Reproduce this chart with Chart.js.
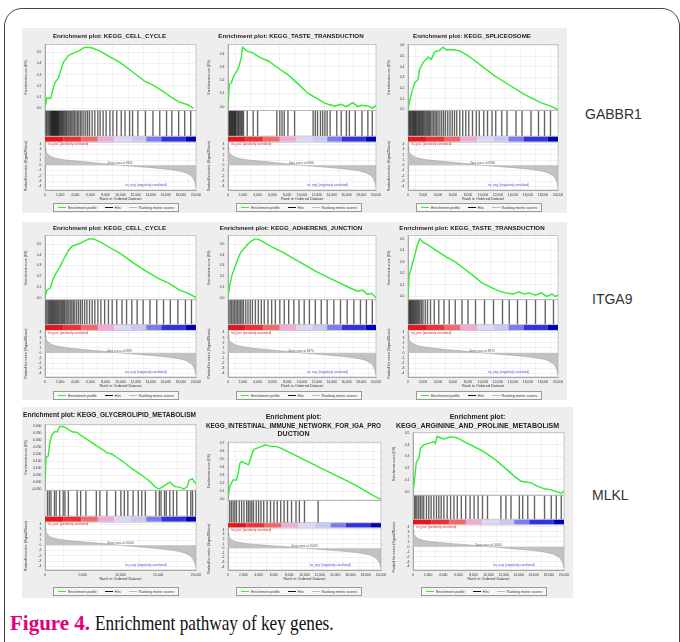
<!DOCTYPE html>
<html>
<head>
<meta charset="utf-8">
<script src="https://cdn.jsdelivr.net/npm/chart.js@4.4.0/dist/chart.umd.min.js"></script>
<style>
body { margin: 0; width: 680px; height: 642px; overflow: hidden; position: relative; background: #fff; font-family: Arial, "Liberation Sans", sans-serif; }
#frame { position: absolute; left: 4px; top: 8px; width: 674px; height: 700px; border: 1px solid #444; border-radius: 18px; }
.row { position: absolute; background: #eeeeee; }
.panel { position: absolute; }
.panel canvas { position: absolute; left: 0; top: 0; }
.legend { position: absolute; width: 124px; height: 7px; border: 1px solid #999; background: #f7f7f7; font-size: 3.6px; color: #333;
  display: flex; align-items: center; justify-content: space-around; }
.legend i { display: inline-block; width: 8px; margin-right: 2px; vertical-align: middle; }
.gene { position: absolute; font-size: 14px; color: #333; }
#caption { position: absolute; left: 10px; top: 611px; font-family: "Liberation Serif", "Times New Roman", serif; font-size: 21px; color: #111; white-space: nowrap; }
#caption b { color: #e2007a; }
#caption span { display: inline-block; transform: scaleX(0.82); transform-origin: left center; }
</style>
</head>
<body>
<div id="frame"></div>
<div class="row" style="left:22px; top:28px; width:545px; height:185px;"></div>
<div class="row" style="left:22px; top:222px; width:545px; height:178px;"></div>
<div class="row" style="left:22px; top:407px; width:551px; height:191px;"></div>
<div class="gene" style="left:585px; top:106px;">GABBR1</div>
<div class="gene" style="left:592px; top:291px;">ITGA9</div>
<div class="gene" style="left:592px; top:487px;">MLKL</div>
<div id="caption"><b>Figure 4.</b> <span>Enrichment pathway of key genes.</span></div>
<div id="panels"></div>

<script>
// TICK LABELS
const rankTicks = [0, 2000, 4000, 6000, 8000, 10000, 12000, 14000, 16000, 18000, 20000];
const rankTicksWide = [0, 5000, 10000, 15000, 20000];
const metricTicks = [4, 3, 2, 1, 0, -1, -2, -3, -4];
const esTicks4 = [0, 0.1, 0.2, 0.3, 0.4];
const esTicks5 = [0, 0.1, 0.2, 0.3, 0.4, 0.5];
const esTicks6 = [0, 0.1, 0.2, 0.3, 0.4, 0.5, 0.6];
const esTicks7 = [0, 0.1, 0.2, 0.3, 0.4, 0.5, 0.6, 0.7];
const esTicksGlycerolipid = [-0.05, 0, 0.05, 0.1, 0.15, 0.2, 0.25, 0.3, 0.35, 0.4];

// ENRICHMENT SCORE CURVES  [rank, ES]
const esCellCycleGabbr1 = [[0,0],[220,0.09],[750,0.09],[970,0.15],[1320,0.23],[1770,0.27],[2430,0.41],[3090,0.47],[3310,0.48],[4420,0.51],[5300,0.545],[6180,0.54],[7280,0.51],[8600,0.46],[9930,0.41],[11700,0.32],[13250,0.24],[14500,0.2],[15670,0.15],[16700,0.1],[17660,0.06],[18980,0.03],[19650,0]];
const esTasteGabbr1 = [[0,0],[180,0.167],[450,0.18],[760,0.23],[1210,0.27],[1430,0.295],[1790,0.37],[1970,0.45],[2550,0.42],[3220,0.41],[4340,0.37],[5460,0.345],[6800,0.29],[8140,0.24],[9490,0.17],[10830,0.1],[11950,0.064],[13060,0.026],[13510,0.018],[14410,0.005],[15300,0.018],[15970,0],[16870,0.03],[17540,0],[17990,0.01],[18880,0.005],[19550,-0.013],[20000,0.01]];
const esSpliceosomeGabbr1 = [[0,0],[220,0.08],[530,0.17],[890,0.25],[1330,0.28],[1560,0.38],[2000,0.44],[2670,0.49],[3110,0.47],[3560,0.54],[4220,0.555],[4670,0.585],[5110,0.56],[6000,0.56],[6890,0.55],[8000,0.505],[9780,0.41],[11560,0.315],[13330,0.237],[15560,0.14],[17780,0.063],[19110,0.03],[20000,0]];
const esCellCycleItga9 = [[0,0],[250,0.07],[700,0.09],[1000,0.16],[1400,0.22],[1900,0.28],[2500,0.36],[3100,0.44],[3600,0.48],[4400,0.5],[5300,0.53],[5900,0.55],[6500,0.545],[7300,0.52],[8500,0.47],[10000,0.41],[11800,0.32],[13300,0.25],[15000,0.18],[16500,0.13],[17800,0.07],[19000,0.04],[20000,0]];
const esAdherensItga9 = [[0,0],[200,0.1],[500,0.2],[900,0.28],[1300,0.35],[1700,0.42],[2200,0.46],[2700,0.5],[3200,0.53],[3700,0.55],[4200,0.54],[5000,0.51],[6000,0.47],[7500,0.42],[9000,0.36],[10500,0.3],[12000,0.24],[13500,0.19],[15000,0.14],[16500,0.09],[17500,0.06],[18200,0.07],[18800,0.03],[19400,0.04],[20000,0]];
const esTasteItga9 = [[0,0],[150,0.18],[400,0.24],[700,0.31],[1000,0.38],[1300,0.46],[1600,0.5],[2000,0.47],[2600,0.45],[3300,0.42],[4200,0.38],[5200,0.34],[6300,0.3],[7500,0.24],[8700,0.18],[9800,0.12],[11000,0.08],[12000,0.05],[13000,0.03],[14000,0.02],[14800,0.04],[15500,0.02],[16200,0.03],[17000,0.01],[17800,0.03],[18500,0],[19200,0.02],[19600,0],[20000,0.01]];
const esGlycerolipidMlkl = [[0,0],[140,0.173],[420,0.185],[650,0.284],[880,0.333],[1250,0.358],[1620,0.358],[1940,0.395],[2410,0.395],[2870,0.383],[3560,0.358],[4260,0.353],[4720,0.333],[5420,0.309],[6110,0.284],[6800,0.259],[7500,0.235],[8190,0.21],[8890,0.198],[9580,0.173],[10280,0.148],[11430,0.099],[12820,0.049],[13750,0.012],[14680,-0.037],[15140,-0.049],[15830,-0.025],[16530,0],[17220,-0.032],[17920,-0.037],[18380,-0.049],[18840,-0.032],[19070,0.012],[19540,0.025],[19770,0],[20000,-0.007]];
const esIntestinalMlkl = [[0,0],[220,0.158],[440,0.2],[670,0.242],[1110,0.242],[1330,0.325],[1560,0.45],[1780,0.47],[2220,0.45],[2670,0.43],[2890,0.49],[3330,0.617],[3780,0.637],[4440,0.658],[4890,0.68],[5560,0.658],[6220,0.658],[6890,0.637],[8220,0.575],[10000,0.492],[12220,0.387],[14440,0.283],[16670,0.179],[18890,0.054],[20000,0]];
const esArginineMlkl = [[0,0],[180,0.088],[440,0.25],[760,0.28],[980,0.368],[1420,0.397],[2090,0.41],[2760,0.426],[2980,0.41],[3200,0.47],[3640,0.456],[4090,0.447],[4760,0.462],[5200,0.465],[5870,0.456],[6760,0.426],[8090,0.382],[9420,0.338],[10760,0.279],[12090,0.206],[13420,0.132],[14310,0.088],[15640,0.074],[16530,0.044],[17420,0.024],[18310,0.015],[18980,0],[19640,-0.015],[20000,0.006]];

// HITS (rank of each gene set member)
const hitsCellCycleGabbr1 = [80,220,380,520,640,760,850,930,1010,1100,1180,1260,1330,1420,1500,1590,1680,1760,1850,1960,2080,2200,2330,2450,2600,2750,2880,3050,3200,3380,3550,3720,3900,4100,4300,4480,4700,4900,5150,5400,5650,5900,6250,6600,7000,7300,7700,8100,8600,9000,9500,10100,10600,11200,11600,12300,13300,14300,15200,16100,16800,17700,18500,19300];
const hitsTasteGabbr1 = [100,200,300,400,500,600,700,800,900,1000,1100,1250,1400,1500,1650,1800,1950,2100,2600,3400,4000,6600,7000,7300,7600,8100,9000,11500,11800,12100,12500,12800,13100,13400,13800,14700,15300,16000,16400,17200,18100,18900,19500];
const hitsSpliceosomeGabbr1 = [60,180,300,420,530,640,760,860,980,1090,1200,1330,1450,1560,1700,1830,1960,2100,2250,2400,2550,2700,2850,3000,3200,3400,3600,3800,4000,4250,4500,4750,5000,5300,5600,5900,6200,6500,6900,7300,7700,8100,8600,9100,9500,10100,10600,11200,11700,12500,13200,14400,15200,16400,17400,18200,19000];
const hitsCellCycleItga9 = [90,250,420,560,700,830,950,1080,1200,1320,1450,1580,1720,1850,2000,2150,2300,2450,2600,2780,2950,3150,3350,3550,3750,3950,4200,4450,4700,4950,5250,5550,5900,6250,6600,7000,7400,7900,8400,8900,9500,10200,10800,11500,12200,13000,13900,14800,15700,16600,17600,18600,19400];
const hitsAdherensItga9 = [100,300,500,700,900,1100,1300,1500,1700,1900,2100,2400,2700,3000,3300,3700,4100,4500,4900,5400,5900,6400,7000,7600,8200,8900,9600,10300,11000,11800,12600,13400,14300,15200,16100,17000,17900,18700,19500];
const hitsTasteItga9 = [80,200,320,440,560,680,800,920,1050,1180,1320,1460,1600,1800,2000,2300,2600,3000,3500,4100,4800,5500,6300,7200,8000,9000,10200,11400,12600,13500,14600,15800,17000,18300,19400];
const hitsGlycerolipidMlkl = [320,560,790,1250,1480,1940,2410,2640,3100,4260,4720,5420,6800,7270,8190,9350,10050,10510,10970,11670,12360,12820,13290,14680,15140,15370,15830,16060,16530,16990,17450,18840,19310,19540,19950];
const hitsIntestinalMlkl = [220,440,670,890,1110,1470,1780,2090,2440,2670,2890,3110,3330,3690,4000,4310,4670,5110,5560,6000,6440,6890,7330,7780,8310,8890,9330,10000,11780];
const hitsArginineMlkl = [180,360,530,760,980,1200,1420,1780,2090,2400,2760,3110,3420,3730,4090,4530,4980,5420,5870,6400,6980,7560,8090,8620,9200,9870,11640,12310,12980,14090,14530,15200,16090,17420,18310,18980,19640];

// RANKED LIST METRIC  [rank, signal2noise]
const metricGabbr1 = [[0,3.4],[100,2.8],[250,2.3],[500,1.9],[900,1.6],[1500,1.3],[2500,1.05],[3500,0.9],[5000,0.7],[6500,0.5],[8000,0.3],[9000,0.15],[9930,0],[11000,-0.12],[12500,-0.3],[14000,-0.45],[15500,-0.65],[16800,-0.85],[17800,-1.1],[18600,-1.4],[19200,-1.8],[19600,-2.4],[19850,-3.2],[20000,-4.2]];
const metricItga9 = [[0,3.6],[100,2.9],[250,2.4],[500,2],[900,1.65],[1500,1.35],[2500,1.1],[3500,0.9],[5000,0.7],[6500,0.5],[8000,0.3],[9000,0.15],[9870,0],[11000,-0.12],[12500,-0.3],[14000,-0.48],[15500,-0.68],[16800,-0.9],[17800,-1.15],[18600,-1.45],[19200,-1.9],[19600,-2.5],[19850,-3.3],[20000,-4.3]];
const metricMlkl = [[0,3.3],[100,2.7],[250,2.2],[500,1.8],[900,1.5],[1500,1.25],[2500,1],[3500,0.85],[5000,0.65],[6500,0.47],[8000,0.3],[9000,0.17],[10010,0],[11000,-0.12],[12500,-0.32],[14000,-0.5],[15500,-0.7],[16800,-0.92],[17800,-1.2],[18600,-1.5],[19200,-1.95],[19600,-2.6],[19850,-3.4],[20000,-4.3]];

// COLOUR BAR SEGMENTS  [from fraction, to fraction, colour]
const colorBarStops = [[0,0.12,'#e4161c'],[0.12,0.24,'#ea3338'],[0.24,0.35,'#f0686c'],[0.35,0.46,'#f2a9d6'],[0.46,0.57,'#dcd7f4'],[0.57,0.67,'#c9c8f4'],[0.67,0.77,'#7d7cee'],[0.77,0.93,'#3333dd'],[0.93,1,'#0000b8']];

// PANELS
const panels = [
  { left: 22, top: 28, w: 183, h: 174, legTop: 175, title: 'Enrichment plot: KEGG_CELL_CYCLE', tSize: 6.2, tPad: [5, 4], es: esCellCycleGabbr1, esMin: -0.02, esMax: 0.57, esTicks: esTicks5, dec: 1, hits: hitsCellCycleGabbr1, metric: metricGabbr1, zero: 9930, xTicks: rankTicks },
  { left: 205, top: 28, w: 180, h: 174, legTop: 175, title: 'Enrichment plot: KEGG_TASTE_TRANSDUCTION', tSize: 6.2, tPad: [5, 4], es: esTasteGabbr1, esMin: -0.03, esMax: 0.47, esTicks: esTicks4, dec: 1, hits: hitsTasteGabbr1, metric: metricGabbr1, zero: 9930, xTicks: rankTicks },
  { left: 385, top: 28, w: 182, h: 174, legTop: 175, title: 'Enrichment plot: KEGG_SPLICEOSOME', tSize: 6.2, tPad: [5, 4], es: esSpliceosomeGabbr1, esMin: -0.01, esMax: 0.61, esTicks: esTicks6, dec: 1, hits: hitsSpliceosomeGabbr1, metric: metricGabbr1, zero: 9930, xTicks: rankTicks },
  { left: 22, top: 222, w: 183, h: 167, legTop: 169, title: 'Enrichment plot: KEGG_CELL_CYCLE', tSize: 6.2, tPad: [3, 3], es: esCellCycleItga9, esMin: -0.02, esMax: 0.58, esTicks: esTicks5, dec: 1, hits: hitsCellCycleItga9, metric: metricItga9, zero: 9870, xTicks: rankTicks },
  { left: 205, top: 222, w: 180, h: 167, legTop: 169, title: 'Enrichment plot: KEGG_ADHERENS_JUNCTION', tSize: 6.2, tPad: [3, 3], es: esAdherensItga9, esMin: -0.02, esMax: 0.58, esTicks: esTicks5, dec: 1, hits: hitsAdherensItga9, metric: metricItga9, zero: 9870, xTicks: rankTicks },
  { left: 385, top: 222, w: 182, h: 167, legTop: 169, title: 'Enrichment plot: KEGG_TASTE_TRANSDUCTION', tSize: 6.2, tPad: [3, 3], es: esTasteItga9, esMin: -0.03, esMax: 0.53, esTicks: esTicks5, dec: 1, hits: hitsTasteItga9, metric: metricItga9, zero: 9870, xTicks: rankTicks },
  { left: 22, top: 407, w: 183, h: 175, legTop: 180, title: 'Enrichment plot: KEGG_GLYCEROLIPID_METABOLISM', tSize: 7, tPad: [4, 5], es: esGlycerolipidMlkl, esMin: -0.06, esMax: 0.41, esTicks: esTicksGlycerolipid, dec: 3, hits: hitsGlycerolipidMlkl, metric: metricMlkl, zero: 10010, xTicks: rankTicksWide },
  { left: 205, top: 407, w: 185, h: 175, legTop: 180, title: ['Enrichment plot:', 'KEGG_INTESTINAL_IMMUNE_NETWORK_FOR_IGA_PRO', 'DUCTION'], tSize: 7, tPad: [6, 4], es: esIntestinalMlkl, esMin: -0.01, esMax: 0.71, esTicks: esTicks7, dec: 1, hits: hitsIntestinalMlkl, metric: metricMlkl, zero: 10010, xTicks: rankTicks },
  { left: 390, top: 407, w: 183, h: 175, legTop: 180, title: ['Enrichment plot:', 'KEGG_ARGININE_AND_PROLINE_METABOLISM'], tSize: 7, tPad: [6, 3], es: esArginineMlkl, esMin: -0.03, esMax: 0.5, esTicks: esTicks5, dec: 1, hits: hitsArginineMlkl, metric: metricMlkl, zero: 10010, xTicks: rankTicks }
];

Chart.defaults.font.family = 'Arial, "Liberation Sans", sans-serif';
Chart.defaults.color = '#333';

// white plot background, colour bar, frames and small notes
var gseaDecor = {
  id: 'gseaDecor',
  beforeDraw: function (chart) {
    var a = chart.chartArea, ctx = chart.ctx;
    ctx.save();
    ctx.fillStyle = '#ffffff';
    ctx.fillRect(a.left, a.top, a.right - a.left, a.bottom - a.top);
    ctx.restore();
  },
  beforeDatasetsDraw: function (chart) {
    var a = chart.chartArea, ctx = chart.ctx;
    var yH = chart.scales.yHits, yC = chart.scales.yColor, x = chart.scales.x;
    ctx.save();
    ctx.fillStyle = '#ffffff';
    ctx.fillRect(a.left, yH.top, a.right - a.left, yH.bottom - yH.top);
    colorBarStops.forEach(function (s) {
      var x0 = x.getPixelForValue(s[0] * x.max);
      var x1 = x.getPixelForValue(s[1] * x.max);
      ctx.fillStyle = s[2];
      ctx.fillRect(x0, yC.top + 0.5, x1 - x0, yC.bottom - yC.top - 1);
    });
    ctx.restore();
  },
  afterDatasetsDraw: function (chart, args, opts) {
    var a = chart.chartArea, ctx = chart.ctx;
    var yE = chart.scales.yES, yH = chart.scales.yHits, yM = chart.scales.yMetric, x = chart.scales.x;
    ctx.save();
    ctx.strokeStyle = '#a8a8a8';
    ctx.lineWidth = 0.6;
    ctx.strokeRect(a.left, yE.top, a.right - a.left, yE.bottom - yE.top);
    ctx.strokeRect(a.left, yH.top, a.right - a.left, yH.bottom - yH.top);
    ctx.strokeRect(a.left, yM.top, a.right - a.left, yM.bottom - yM.top);
    ctx.font = '3px Arial';
    ctx.textBaseline = 'top';
    ctx.fillStyle = '#e8262b';
    ctx.fillText("'na_pos' (positively correlated)", a.left + 3, yM.top + 1);
    ctx.fillStyle = '#4a4ae8';
    ctx.fillText("'na_neg' (negatively correlated)", x.getPixelForValue(x.max * 0.53), yM.bottom - 6);
    ctx.fillStyle = '#555';
    ctx.textBaseline = 'bottom';
    ctx.textAlign = 'center';
    ctx.fillText('Zero cross at ' + opts.zero, x.getPixelForValue(opts.zero), yM.getPixelForValue(0) - 0.3);
    ctx.restore();
  }
};

function fixedTicks(list) {
  return function (scale) {
    scale.ticks = list.map(function (v) { return { value: v }; });
  };
}

function makePanel(p, i) {
  var holder = document.createElement('div');
  holder.className = 'panel';
  holder.style.left = p.left + 'px';
  holder.style.top = p.top + 'px';
  holder.style.width = p.w + 'px';
  holder.innerHTML = '<canvas id="gsea' + i + '" width="' + p.w + '" height="' + p.h + '"></canvas>' +
    '<div class="legend" style="left:31px; top:' + p.legTop + 'px;">' +
    '<span><i style="height:1.5px; background:#33ee33;"></i>Enrichment profile</span>' +
    '<span><i style="height:0.6px; background:#111;"></i>Hits</span>' +
    '<span><i style="height:0.6px; background:#bbb;"></i>Ranking metric scores</span></div>';
  document.getElementById('panels').appendChild(holder);

  var tickFont = { size: 3.4 };
  var axisTitleFont = { size: 3.4 };

  new Chart(document.getElementById('gsea' + i).getContext('2d'), {
    type: 'line',
    data: {
      datasets: [{
        label: 'Enrichment profile',
        data: p.es.map(function (d) { return { x: d[0], y: d[1] }; }),
        yAxisID: 'yES',
        borderColor: '#2fee2f',
        borderWidth: 1.4,
        pointRadius: 0,
        tension: 0
      }, {
        type: 'bar',
        label: 'Hits',
        data: p.hits.map(function (h) { return { x: h, y: 1 }; }),
        yAxisID: 'yHits',
        backgroundColor: 'rgba(0,0,0,0.62)',
        barThickness: 0.7
      }, {
        label: 'Ranking metric scores',
        data: p.metric.map(function (d) { return { x: d[0], y: d[1] }; }),
        yAxisID: 'yMetric',
        borderColor: '#9a9a9a',
        borderWidth: 0.5,
        backgroundColor: '#c2c2c2',
        fill: 'origin',
        pointRadius: 0,
        tension: 0
      }]
    },
    options: {
      responsive: false,
      animation: false,
      layout: { padding: { left: 1, right: 9, top: 0, bottom: 0 } },
      plugins: {
        legend: { display: false },
        tooltip: { enabled: false },
        title: {
          display: true,
          text: p.title,
          color: '#222',
          font: { size: p.tSize, weight: 'bold' },
          padding: { top: p.tPad[0], bottom: p.tPad[1] }
        },
        gseaDecor: { zero: p.zero }
      },
      // stacked y axes: listed bottom-up (metric at the bottom, ES on top)
      scales: {
        x: {
          type: 'linear',
          min: 0,
          max: 20000,
          offset: false,
          afterBuildTicks: fixedTicks(p.xTicks),
          afterFit: function (s) { s.height = 12; },
          ticks: { font: tickFont, maxRotation: 0, autoSkip: false, padding: 1,
            callback: function (v) { return v.toLocaleString('en-US'); } },
          grid: { color: '#e4e4e4', lineWidth: 0.5, tickLength: 2 },
          border: { color: '#a8a8a8' },
          title: { display: true, text: 'Rank in Ordered Dataset', font: { size: 3.8 }, padding: 1 }
        },
        yMetric: {
          type: 'linear',
          position: 'left',
          stack: 'gsea',
          stackWeight: 47,
          min: -4.7,
          max: 4.4,
          afterBuildTicks: fixedTicks(metricTicks),
          afterFit: function (s) { s.width = 22; },
          ticks: { font: tickFont, padding: 1.5, autoSkip: false },
          grid: { color: '#e4e4e4', lineWidth: 0.5, tickLength: 2 },
          border: { color: '#a8a8a8' },
          title: { display: true, text: 'Ranked list metric (Signal2Noise)', font: axisTitleFont, padding: 1 }
        },
        yColor: {
          type: 'linear',
          position: 'left',
          stack: 'gsea',
          stackWeight: 6,
          min: 0,
          max: 1,
          afterFit: function (s) { s.width = 22; },
          ticks: { display: false },
          grid: { display: false },
          border: { display: false }
        },
        yHits: {
          type: 'linear',
          position: 'left',
          stack: 'gsea',
          stackWeight: 25,
          min: 0,
          max: 1,
          afterFit: function (s) { s.width = 22; },
          ticks: { display: false },
          grid: { display: false },
          border: { color: '#a8a8a8' }
        },
        yES: {
          type: 'linear',
          position: 'left',
          stack: 'gsea',
          stackWeight: 65,
          min: p.esMin,
          max: p.esMax,
          afterBuildTicks: fixedTicks(p.esTicks),
          afterFit: function (s) { s.width = 22; },
          ticks: { font: tickFont, padding: 1.5, autoSkip: false, callback: function (v) { return v.toFixed(p.dec); } },
          grid: { color: '#e4e4e4', lineWidth: 0.5, tickLength: 2 },
          border: { color: '#a8a8a8' },
          title: { display: true, text: 'Enrichment score (ES)', font: axisTitleFont, padding: 1 }
        }
      }
    },
    plugins: [gseaDecor]
  });
}

panels.forEach(makePanel);
</script>
</body>
</html>
